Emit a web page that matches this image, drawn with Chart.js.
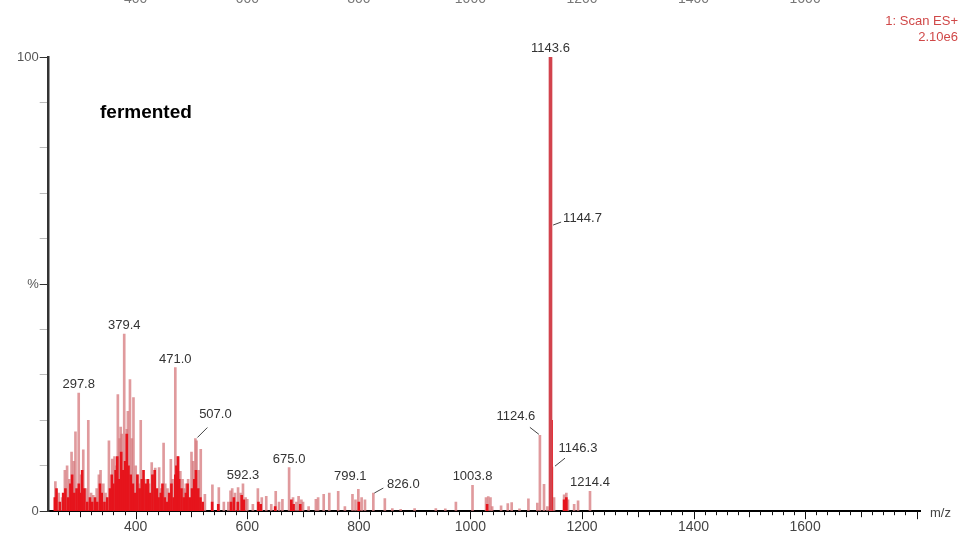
<!DOCTYPE html>
<html>
<head>
<meta charset="utf-8">
<title>fermented - ES+ spectrum</title>
<script src="https://cdn.jsdelivr.net/npm/chart.js@4.4.1/dist/chart.umd.min.js"></script>
<style>
    html, body { margin: 0; padding: 0; background: #fff; }
    #wrap { width: 963px; height: 539px; position: relative; }
</style>
</head>
<body>
<div id="wrap"><canvas id="spectrum"></canvas></div>
<script>
// Light (pink) sticks, m/z and relative intensity %
const pinkMz = [256, 262, 268, 273, 277, 281, 285, 289, 292, 297.8, 302, 306, 311, 315, 320, 324, 330, 334, 337, 342,
    346, 352, 358, 362, 365, 368, 371, 373, 375, 379.4, 384, 386, 389.7, 393, 396, 400, 403, 406, 409, 412,
    415, 420, 424, 428.7, 432, 435, 442, 446, 450, 453, 457, 463, 466, 471.0, 475, 480, 484, 487, 490, 494,
    500, 503, 507.0, 509, 513, 516.6, 524, 537.5, 549, 558, 566, 570, 573, 578, 583.5, 588, 592.3, 597, 600, 610,
    619, 626, 634, 643, 651, 657, 663, 675.0, 682, 688, 692, 697, 700, 710, 723, 727, 737, 747, 763, 775,
    788.6, 794, 799.1, 805, 811, 826.0, 846.6, 860, 875, 900, 938, 955, 974, 1003.8, 1028, 1032, 1036, 1039, 1055, 1067,
    1074, 1088, 1104, 1120, 1124.6, 1132, 1138, 1146.3, 1150, 1168, 1172, 1175, 1186, 1193, 1214.4];
const pinkInt = [6.5, 4, 3, 9, 10, 7, 13, 11, 17.5, 26, 8, 13.5, 5, 20, 4, 3.5, 5, 8, 9, 6,
    4, 15.5, 11.5, 12, 10, 25.7, 16, 18.5, 17, 39, 18, 22, 29, 16, 25, 10, 8, 6, 20, 7,
    7, 7, 6, 10.7, 8, 9.5, 9.6, 5, 15, 6, 5, 11.4, 7, 31.6, 12, 8.8, 7, 5, 6, 7,
    13, 11, 16, 15.5, 9, 13.6, 3.7, 5.8, 5.2, 2, 2, 4.5, 5, 4, 5.2, 4, 6, 3, 2.6, 1.5,
    5, 3, 3.3, 1.5, 4.4, 2, 2.6, 9.6, 3, 2, 3.3, 2.5, 2, 1, 2.6, 3, 3.7, 4, 4.4, 1,
    3.7, 2.5, 4.8, 3, 2.5, 4, 2.8, 0.6, 0.4, 0.6, 0.6, 0.5, 2, 5.7, 3, 3.2, 3, 1, 1.2, 1.7,
    1.9, 0.5, 2.7, 1.8, 16.7, 5.9, 1, 9.7, 3, 3.6, 4, 2.5, 1.5, 2.3, 4.4];

// Bright red sticks in front
const redMz = [255, 258, 264, 270, 274, 279, 283, 286, 290, 294, 298, 300, 304, 308, 313, 318, 322, 327, 331, 336,
    339, 344, 349, 354, 357, 360, 364, 367, 370, 374, 377, 381, 384, 387, 391, 395, 399, 403, 407, 411,
    414, 418, 422, 426, 430, 434, 438, 441, 445, 448, 452, 456, 460, 464, 468, 471, 473, 476, 478, 482,
    486, 490, 493, 497, 501, 505, 508, 512, 516, 520, 537, 548, 571, 576, 583, 590, 594, 620, 624, 650,
    679, 683, 695, 800, 1030, 1145.5, 1168, 1172];
const redInt = [3, 5, 2, 4, 5, 3, 6, 8, 4, 5, 6, 4, 9, 5, 2, 3, 2, 3, 2, 6,
    4, 2, 3, 5, 8, 6, 9, 12, 7, 13, 9, 11, 17, 10, 8, 6, 4, 8, 5, 7,
    9, 6, 7, 4, 8, 9, 5, 3, 4, 6, 3, 2, 4, 6, 3, 8, 10, 12, 7, 5,
    3, 4, 6, 3, 5, 7, 9, 5, 3, 2, 2, 1.5, 2, 3, 2, 3.5, 2.5, 2, 1.5, 1,
    2.5, 1.5, 1.5, 2, 1.5, 20, 2.5, 3];

// Base peak
const baseMz = [1143.6];
const baseInt = [100];

// Annotated peaks
const peakLabels = ['1143.6', '1144.7', '379.4', '471.0', '297.8', '507.0', '592.3', '675.0',
    '799.1', '826.0', '1003.8', '1124.6', '1146.3', '1214.4'];
const peakMz = [1143.6, 1144.7, 379.4, 471.0, 297.8, 507.0, 592.3, 675.0, 799.1, 826.0, 1003.8, 1124.6, 1146.3, 1214.4];
const peakInt = [100, 63, 39, 31.6, 26, 16, 6, 9.6, 4.8, 4, 5.7, 16.7, 9.7, 4.4];

// Axis labels
const xTickLabels = [400, 600, 800, 1000, 1200, 1400, 1600];
const yTickLabels = { 0: '0', 50: '%', 100: '100' };

const FONT = "'Liberation Sans', Arial, sans-serif";

function toPoints(xs, ys) {
    return xs.map((x, i) => ({ x: x, y: ys[i] }));
}

// label placement relative to the peak top: dx, dy of the text, and an optional leader line
const labelStyle = {
    '1144.7': { dx: 12, dy: 2, align: 'left', lead: [2, 0, 10, -3] },
    '507.0': { dx: 20, dy: -16, lead: [2, -1, 12, -11] },
    '799.1': { dx: -8, dy: -4 },
    '826.0': { dx: 30, dy: 0, lead: [1, 0, 10, -5] },
    '1124.6': { dx: -24, dy: -10, lead: [-1, -1, -10, -8] },
    '1146.3': { dx: 26, dy: -10, lead: [3, -1, 13, -9] }
};

// Peak annotations, corner text and hand drawn x ticks
const annotatePlugin = {
    id: 'annotate',
    afterDraw(chart) {
        const ctx = chart.ctx;
        const xs = chart.scales.x;
        const ys = chart.scales.y;
        const area = chart.chartArea;
        ctx.save();

        // x tick marks: long on 200s, medium on 100s
        ctx.strokeStyle = '#111';
        ctx.lineWidth = 1;
        xs.ticks.forEach(t => {
            const px = Math.round(xs.getPixelForValue(t.value)) + 0.5;
            const len = t.value % 200 === 0 ? 8 : (t.value % 100 === 0 ? 6 : 4);
            ctx.beginPath();
            ctx.moveTo(px, area.bottom);
            ctx.lineTo(px, area.bottom + len);
            ctx.stroke();
        });

        // peak labels
        ctx.font = '13px ' + FONT;
        ctx.fillStyle = '#333';
        ctx.textBaseline = 'alphabetic';
        peakLabels.forEach((txt, i) => {
            const px = xs.getPixelForValue(peakMz[i]);
            const py = ys.getPixelForValue(peakInt[i]);
            const st = labelStyle[txt] || { dx: 0, dy: 0 };
            ctx.textAlign = st.align || 'center';
            ctx.fillText(txt, px + st.dx, py - 5 + st.dy);
            if (st.lead) {
                ctx.strokeStyle = '#444';
                ctx.beginPath();
                ctx.moveTo(px + st.lead[0], py + st.lead[1]);
                ctx.lineTo(px + st.lead[2], py + st.lead[3]);
                ctx.stroke();
            }
        });

        // m/z caption at the end of the axis
        ctx.textAlign = 'left';
        ctx.textBaseline = 'middle';
        ctx.fillStyle = '#444';
        ctx.font = '13px ' + FONT;
        ctx.fillText('m/z', area.right + 10, area.bottom + 2);

        // sample name
        ctx.font = 'bold 19px ' + FONT;
        ctx.fillStyle = '#000';
        ctx.textBaseline = 'alphabetic';
        ctx.fillText('fermented', 100, 118);

        // scan info
        ctx.font = '13px ' + FONT;
        ctx.fillStyle = '#d04848';
        ctx.textAlign = 'right';
        ctx.fillText('1: Scan ES+', 958, 25);
        ctx.fillText('2.10e6', 958, 41);

        // cut-off axis labels of the panel above
        ctx.fillStyle = '#777';
        ctx.textAlign = 'center';
        ctx.font = '14px ' + FONT;
        xTickLabels.forEach(v => {
            ctx.fillText(String(v), xs.getPixelForValue(v), 3);
        });

        ctx.restore();
    }
};

new Chart(document.getElementById('spectrum'), {
    type: 'bar',
    data: {
        datasets: [
            {
                label: 'light',
                data: toPoints(pinkMz, pinkInt),
                backgroundColor: 'rgba(214, 120, 124, 0.75)',
                barThickness: 2,
                grouped: false,
                order: 3
            },
            {
                label: 'red',
                data: toPoints(redMz, redInt),
                backgroundColor: '#e6141c',
                barThickness: 2,
                grouped: false,
                order: 2
            },
            {
                label: 'base',
                data: toPoints(baseMz, baseInt),
                backgroundColor: '#d2434d',
                barThickness: 3,
                grouped: false,
                order: 1
            }
        ]
    },
    options: {
        responsive: true,
        maintainAspectRatio: false,
        animation: false,
        layout: { padding: { left: 16, right: 43, top: 57, bottom: 2 } },
        plugins: {
            legend: { display: false },
            tooltip: { enabled: false }
        },
        scales: {
            x: {
                type: 'linear',
                min: 244,
                max: 1806,
                offset: false,
                grid: { display: false, drawTicks: true, tickLength: 7 },
                border: { display: true, color: '#000', width: 2 },
                ticks: {
                    stepSize: 20,
                    includeBounds: false,
                    autoSkip: false,
                    maxRotation: 0,
                    padding: 1,
                    color: '#444',
                    font: { family: FONT, size: 14 },
                    callback: v => xTickLabels.includes(v) ? String(v) : ''
                }
            },
            y: {
                min: 0,
                max: 100,
                grid: {
                    drawOnChartArea: false,
                    tickLength: 9,
                    color: c => (c.tick && yTickLabels[c.tick.value] !== undefined) ? '#333' : '#bbb'
                },
                border: { display: true, color: '#333', width: 2.5 },
                ticks: {
                    stepSize: 10,
                    padding: 1,
                    color: '#555',
                    font: { family: FONT, size: 13 },
                    callback: v => yTickLabels[v] !== undefined ? yTickLabels[v] : ''
                }
            }
        }
    },
    plugins: [annotatePlugin]
});
</script>
</body>
</html>
